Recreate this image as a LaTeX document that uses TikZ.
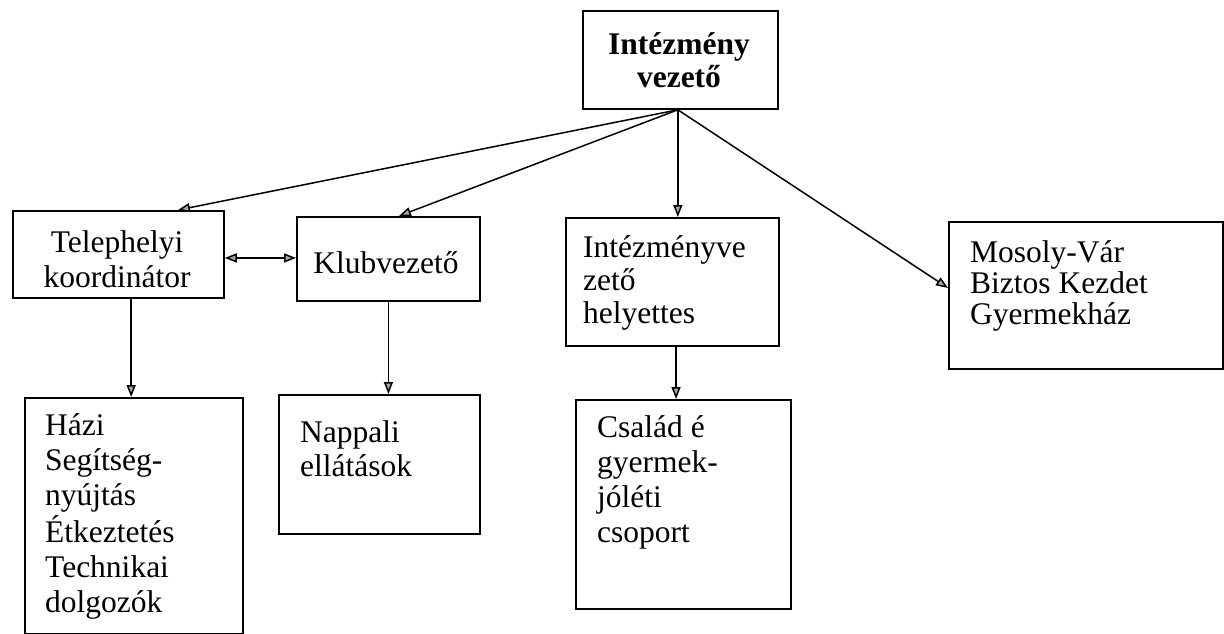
\documentclass[tikz,border=0pt]{standalone}
\usepackage{fontspec}
\setmainfont{Liberation Serif}
\usetikzlibrary{arrows.meta,calc}
\newcommand{\txtlines}[3]{{\fontsize{31.5}{#1}\selectfont\begin{tabular}[t]{@{}#2@{}}#3\end{tabular}}}
\begin{document}
\begin{tikzpicture}[x=1pt,y=-1pt,
  box/.style={draw=black, line width=1.8pt, inner sep=0pt, anchor=north west},
  txt/.style={inner sep=0pt, text=black},
  arr/.style={draw=black, line width=1.5pt, -{Triangle[length=12pt,width=9pt,fill=gray!70]}},
  darr/.style={draw=black, line width=1.5pt, {Triangle[length=12pt,width=9pt,fill=gray!70]}-{Triangle[length=12pt,width=9pt,fill=gray!70]}}
]
\useasboundingbox[fill=white] (0,0) rectangle (1224,634);

% boxes
\node[box, minimum width=195pt, minimum height=98pt]  (I)  at (582,10)  {};
\node[box, minimum width=211pt, minimum height=87pt]  (T)  at (12,210)  {};
\node[box, minimum width=183pt, minimum height=84pt]  (K)  at (296,216) {};
\node[box, minimum width=213pt, minimum height=128pt] (H)  at (565,217) {};
\node[box, minimum width=274pt, minimum height=147pt] (M)  at (948,221) {};
\node[box, minimum width=218pt, minimum height=236pt] (Hz) at (24,397)  {};
\node[box, minimum width=201pt, minimum height=139pt] (N)  at (278,394) {};
\node[box, minimum width=215pt, minimum height=209pt] (C)  at (575,399) {};

% texts
\node[txt, anchor=base] (tI) at (679,55) {\bfseries\txtlines{33}{c}{Intézmény\\vezető}};
\node[txt, anchor=base] (tT) at (117,252) {\txtlines{35}{c}{Telephelyi\\koordinátor}};
\node[txt, anchor=base] (tK) at (386,273) {\txtlines{30}{c}{Klubvezető}};
\node[txt, anchor=base west] (tH) at (583,257) {\txtlines{33}{l}{Intézményve\\zető\\helyettes}};
\node[txt, anchor=base west] (tM) at (970,262) {\txtlines{31}{l}{Mosoly-Vár\\Biztos Kezdet\\Gyermekház}};
\node[txt, anchor=base west] (tHz) at (45,435) {\txtlines{35}{l}{Házi\\Segítség-\\nyújtás\\Étkeztetés\\Technikai\\dolgozók}};
\node[txt, anchor=base west] (tN) at (300,442) {\txtlines{34}{l}{Nappali\\ellátások}};
\node[txt, anchor=base west] (tC) at (597,437) {\txtlines{35}{l}{Család é\\gyermek-\\jóléti\\csoport}};

% connectors
\coordinate (src) at ($(I.south west)!0.487!(I.south east)$);
\draw[arr] (src) -- ($(T.north west)!0.78!(T.north east)$);
\draw[arr] (src) -- ($(K.north west)!0.557!(K.north east)$);
\draw[arr] (src) -- (src |- H.north);
\draw[arr] (src) -- ($(M.north west)!0.45!(M.south west)$);

\coordinate (tk) at ($(T.north east)!0.54!(T.south east)$);
\draw[darr] (tk) -- (tk -| K.west);

\coordinate (tb) at ($(T.south west)!0.56!(T.south east)$);
\draw[arr] (tb) -- (tb |- Hz.north);
\draw[arr] (K.south) -- (K.south |- N.north);
\coordinate (hb) at ($(H.south west)!0.517!(H.south east)$);
\draw[arr] (hb) -- (hb |- C.north);
\end{tikzpicture}
\end{document}
